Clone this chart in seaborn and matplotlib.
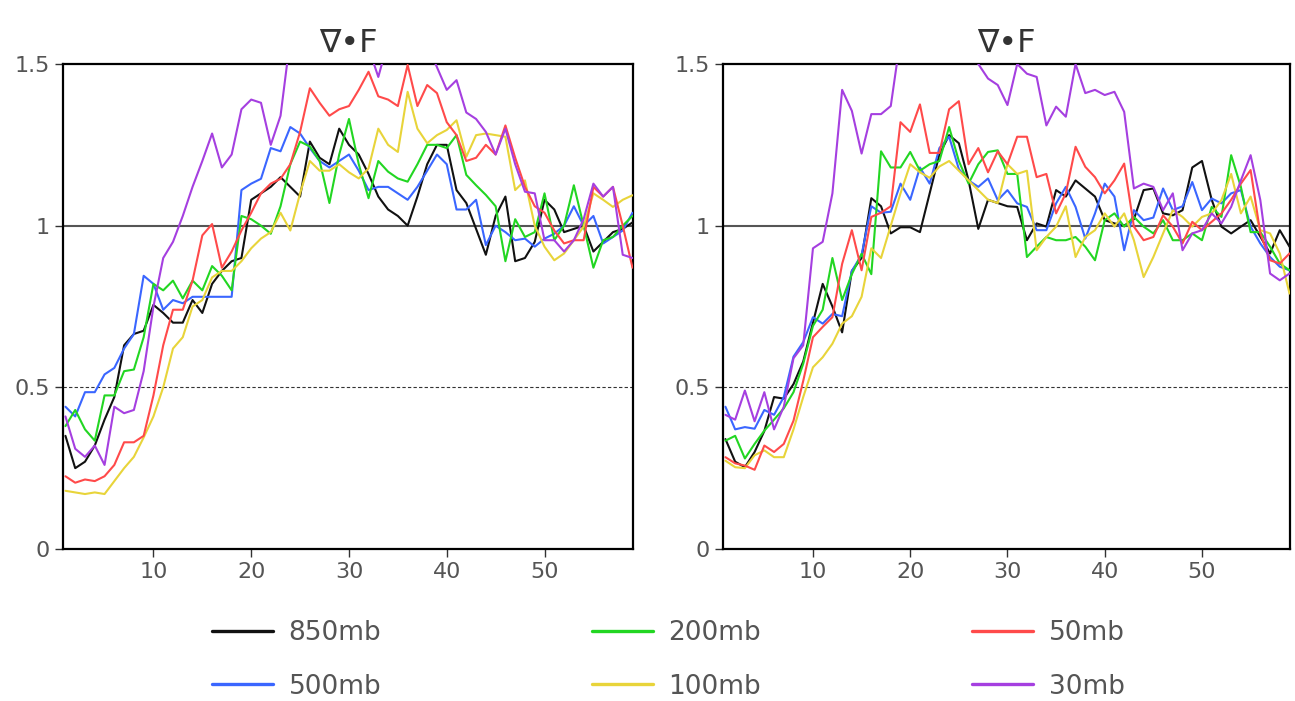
import matplotlib
matplotlib.use("Agg")
import matplotlib.pyplot as plt
import seaborn as sns
import pandas as pd

# eje x: paso 1..59
pasos = list(range(1, 60))
niveles = ["850mb", "500mb", "200mb", "100mb", "50mb", "30mb"]
colores = ["#111111", "#3a66ff", "#22d622", "#e8d43a", "#ff4a4a", "#a53fe0"]

# panel izquierdo
izq_850 = [0.35, 0.25, 0.27, 0.32, 0.40, 0.47, 0.63, 0.665, 0.675, 0.755,
           0.73, 0.70, 0.70, 0.77, 0.73, 0.82, 0.86, 0.89, 0.90, 1.08,
           1.10, 1.12, 1.15, 1.12, 1.09, 1.26, 1.21, 1.19, 1.30, 1.25,
           1.22, 1.16, 1.09, 1.05, 1.03, 1.00, 1.09, 1.19, 1.25, 1.25,
           1.11, 1.07, 0.99, 0.91, 1.03, 1.09, 0.89, 0.90, 0.95, 1.08,
           1.05, 0.98, 0.99, 1.00, 0.92, 0.95, 0.98, 0.99, 1.01]
izq_500 = [0.44, 0.41, 0.485, 0.485, 0.54, 0.56, 0.62, 0.665, 0.845, 0.82,
           0.74, 0.77, 0.76, 0.78, 0.78, 0.78, 0.78, 0.78, 1.11, 1.13,
           1.145, 1.24, 1.23, 1.305, 1.285, 1.24, 1.20, 1.18, 1.20, 1.22,
           1.17, 1.11, 1.12, 1.12, 1.10, 1.08, 1.12, 1.17, 1.22, 1.19,
           1.05, 1.05, 1.08, 0.94, 1.00, 0.98, 0.955, 0.96, 0.935, 0.96,
           0.975, 1.00, 1.06, 1.00, 1.03, 0.945, 0.965, 0.985, 1.04]
izq_200 = [0.38, 0.43, 0.37, 0.335, 0.475, 0.475, 0.55, 0.555, 0.655, 0.82,
           0.80, 0.83, 0.775, 0.83, 0.80, 0.875, 0.845, 0.80, 1.03, 1.02,
           1.00, 0.975, 1.06, 1.19, 1.26, 1.245, 1.20, 1.07, 1.22, 1.33,
           1.19, 1.085, 1.20, 1.167, 1.146, 1.136, 1.19, 1.25, 1.25, 1.24,
           1.28, 1.157, 1.125, 1.095, 1.06, 0.89, 1.02, 0.965, 0.98, 1.10,
           0.955, 1.00, 1.125, 1.00, 0.87, 0.955, 0.965, 1.00, 1.03]
izq_100 = [0.18, 0.175, 0.17, 0.175, 0.17, 0.21, 0.25, 0.285, 0.345, 0.41,
           0.50, 0.62, 0.655, 0.75, 0.77, 0.84, 0.86, 0.86, 0.89, 0.93,
           0.96, 0.98, 1.04, 0.985, 1.10, 1.20, 1.17, 1.17, 1.19, 1.165,
           1.146, 1.177, 1.30, 1.25, 1.228, 1.414, 1.30, 1.255, 1.28, 1.296,
           1.326, 1.213, 1.28, 1.285, 1.28, 1.275, 1.11, 1.14, 1.00, 0.935,
           0.893, 0.914, 0.955, 0.997, 1.10, 1.08, 1.058, 1.08, 1.094]
izq_50 = [0.225, 0.205, 0.215, 0.21, 0.225, 0.26, 0.33, 0.33, 0.35, 0.475,
          0.63, 0.74, 0.74, 0.83, 0.97, 1.005, 0.87, 0.92, 0.985, 1.04,
          1.10, 1.13, 1.145, 1.19, 1.29, 1.425, 1.38, 1.34, 1.36, 1.37,
          1.42, 1.476, 1.40, 1.39, 1.37, 1.497, 1.37, 1.435, 1.41, 1.32,
          1.28, 1.20, 1.21, 1.25, 1.22, 1.31, 1.21, 1.12, 1.06, 1.04,
          0.985, 0.945, 0.955, 0.955, 1.12, 1.09, 1.12, 1.00, 0.87]
izq_30 = [0.41, 0.31, 0.285, 0.32, 0.26, 0.44, 0.42, 0.43, 0.55, 0.75,
          0.90, 0.95, 1.03, 1.12, 1.20, 1.285, 1.18, 1.22, 1.36, 1.39,
          1.38, 1.25, 1.34, 1.58, 1.66, 1.72, 1.70, 1.75, 1.68, 1.62,
          1.60, 1.55, 1.46, 1.57, 1.65, 1.68, 1.62, 1.56, 1.49, 1.42,
          1.45, 1.35, 1.33, 1.29, 1.22, 1.30, 1.19, 1.105, 1.10, 0.955,
          0.955, 0.92, 0.955, 1.02, 1.13, 1.09, 1.12, 0.91, 0.90]

# panel derecho
der_850 = [0.34, 0.27, 0.253, 0.30, 0.365, 0.47, 0.465, 0.51, 0.58, 0.70,
           0.82, 0.75, 0.67, 0.86, 0.90, 1.085, 1.06, 0.976, 0.995, 0.995,
           0.98, 1.10, 1.22, 1.28, 1.255, 1.14, 0.99, 1.08, 1.07, 1.06,
           1.058, 0.955, 1.007, 0.997, 1.11, 1.09, 1.14, 1.115, 1.09, 1.017,
           1.007, 1.00, 1.02, 1.11, 1.115, 1.038, 1.032, 1.048, 1.18, 1.20,
           1.08, 0.997, 0.976, 0.997, 1.017, 0.966, 0.914, 0.986, 0.935]
der_500 = [0.44, 0.37, 0.377, 0.372, 0.43, 0.415, 0.47, 0.595, 0.64, 0.717,
           0.697, 0.727, 0.72, 0.86, 0.91, 1.06, 1.04, 1.043, 1.13, 1.08,
           1.18, 1.13, 1.24, 1.275, 1.175, 1.14, 1.12, 1.146, 1.079, 1.11,
           1.069, 1.058, 0.986, 0.986, 1.069, 1.12, 1.058, 0.96, 1.038, 1.13,
           1.09, 0.924, 1.048, 1.017, 1.025, 1.115, 1.048, 1.06, 1.135, 1.048,
           1.084, 1.069, 1.10, 1.11, 0.997, 0.945, 0.903, 0.873, 0.862]
der_200 = [0.335, 0.35, 0.28, 0.325, 0.366, 0.40, 0.435, 0.485, 0.573, 0.69,
           0.74, 0.90, 0.77, 0.85, 0.913, 0.85, 1.23, 1.18, 1.18, 1.228,
           1.17, 1.19, 1.20, 1.305, 1.20, 1.13, 1.19, 1.228, 1.233, 1.16,
           1.16, 0.903, 0.935, 0.965, 0.955, 0.955, 0.965, 0.935, 0.893, 1.017,
           1.038, 0.997, 1.027, 0.997, 0.976, 1.017, 0.955, 0.955, 0.976, 0.955,
           1.058, 1.027, 1.218, 1.12, 0.98, 0.98, 0.935, 0.883, 0.862]
der_100 = [0.273, 0.253, 0.25, 0.29, 0.305, 0.284, 0.284, 0.37, 0.47, 0.562,
           0.593, 0.635, 0.697, 0.72, 0.78, 0.93, 0.90, 1.00, 1.10, 1.19,
           1.165, 1.148, 1.183, 1.20, 1.17, 1.14, 1.11, 1.08, 1.07, 1.19,
           1.16, 1.17, 0.924, 0.965, 0.997, 1.06, 0.903, 0.965, 0.986, 1.038,
           0.997, 1.038, 0.955, 0.841, 0.903, 0.976, 1.048, 1.027, 0.997, 1.027,
           1.038, 1.079, 1.16, 1.038, 1.09, 0.986, 0.976, 0.914, 0.79]
der_50 = [0.284, 0.265, 0.258, 0.245, 0.32, 0.30, 0.325, 0.397, 0.52, 0.655,
          0.687, 0.717, 0.882, 0.986, 0.862, 1.027, 1.04, 1.06, 1.32, 1.29,
          1.375, 1.225, 1.225, 1.36, 1.385, 1.19, 1.24, 1.165, 1.23, 1.19,
          1.275, 1.275, 1.15, 1.16, 1.038, 1.10, 1.244, 1.182, 1.15, 1.10,
          1.14, 1.192, 0.997, 0.955, 0.965, 1.032, 0.997, 0.945, 1.012, 0.986,
          1.012, 1.038, 1.08, 1.13, 1.172, 0.976, 0.893, 0.883, 0.914]
der_30 = [0.415, 0.40, 0.49, 0.395, 0.485, 0.37, 0.44, 0.59, 0.63, 0.93,
          0.95, 1.10, 1.42, 1.355, 1.223, 1.345, 1.345, 1.37, 1.58, 1.68,
          1.75, 1.78, 1.75, 1.72, 1.66, 1.58, 1.50, 1.455, 1.435, 1.373,
          1.50, 1.47, 1.46, 1.31, 1.368, 1.337, 1.50, 1.41, 1.42, 1.404,
          1.414, 1.352, 1.115, 1.13, 1.12, 1.048, 1.10, 0.924, 0.976, 0.986,
          1.038, 1.007, 1.058, 1.14, 1.218, 1.079, 0.852, 0.831, 0.852]

paneles = [
    [izq_850, izq_500, izq_200, izq_100, izq_50, izq_30],
    [der_850, der_500, der_200, der_100, der_50, der_30],
]

sns.set_theme(style="ticks")
plt.rcParams["font.family"] = ["DejaVu Sans"]

fig = plt.figure(figsize=(12.95, 7.01), dpi=100)
alto = 485 / 701
base = 1 - 549 / 701
ejes = [
    fig.add_axes([63 / 1295, base, 570 / 1295, alto]),
    fig.add_axes([723 / 1295, base, 567 / 1295, alto]),
]

for ax, series in zip(ejes, paneles):
    filas = []
    for nivel, valores in zip(niveles, series):
        for x, v in zip(pasos, valores):
            filas.append({"paso": x, "valor": v, "nivel": nivel})
    df = pd.DataFrame(filas)
    sns.lineplot(data=df, x="paso", y="valor", hue="nivel", hue_order=niveles,
                 palette=colores, linewidth=1.5, ax=ax, legend=False, zorder=3)

    ax.axhline(1.0, color="#555555", linewidth=1.5, zorder=2)
    ax.axhline(0.5, color="#333333", linewidth=0.8, linestyle=(0, (3, 2)), zorder=2)

    ax.set_xlim(0.75, 59.05)
    ax.set_ylim(0, 1.5)
    ax.set_xticks([10, 20, 30, 40, 50])
    ax.set_yticks([0, 0.5, 1, 1.5])
    ax.set_yticklabels(["0", "0.5", "1", "1.5"])
    ax.set_xlabel("")
    ax.set_ylabel("")
    ax.tick_params(direction="out", length=6, width=1.0, labelsize=16,
                   labelcolor="#555555", color="#333333")
    for sp in ax.spines.values():
        sp.set_visible(True)
        sp.set_linewidth(1.6)
        sp.set_color("black")
    ax.set_title("∇•F", fontsize=23, color="#333333", pad=9)

# leyenda en tres columnas de dos filas
lineas = ejes[0].get_lines()[:6]
columnas = [(0, 1, 212), (2, 3, 592), (4, 5, 972)]
for i, j, xpix in columnas:
    leg = fig.legend([lineas[i], lineas[j]], [niveles[i], niveles[j]],
                     loc="upper left", bbox_to_anchor=(xpix / 1295, 1 - 620 / 701),
                     frameon=False, fontsize=19, handlelength=2.3, handletextpad=0.6,
                     labelspacing=1.05, borderpad=0, borderaxespad=0,
                     labelcolor="#555555")
    for h in leg.get_lines():
        h.set_linewidth(2.4)

fig.savefig("out.png", dpi=100, facecolor="white")
